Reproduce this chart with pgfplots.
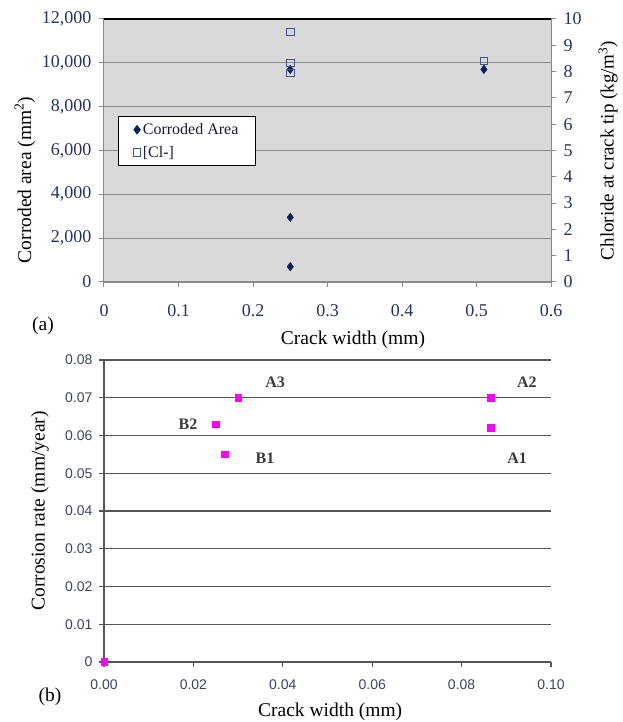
\documentclass[border=0pt]{standalone}
\usepackage{fontspec}
\setmainfont{Liberation Serif}
\newfontfamily\arialf{Liberation Sans}
\usepackage{pgfplots}
\pgfplotsset{compat=1.18}
\definecolor{navy}{HTML}{0D1F5A}
\definecolor{ticknavy}{HTML}{22345F}
\definecolor{sqedge}{HTML}{3F5590}
\definecolor{gridg}{HTML}{8A8A8A}
\definecolor{bgray}{HTML}{D9D9D9}
\definecolor{darkg}{HTML}{555555}
\definecolor{lblg}{HTML}{3A3A3A}
\definecolor{btick}{HTML}{3A4560}
\definecolor{pmag}{HTML}{FF00FF}
\definecolor{legtxt}{HTML}{1A1A35}
\begin{document}
\begin{tikzpicture}[x=1pt,y=1pt]
\useasboundingbox (0,0) rectangle (622,722);
% ---------- (a) left axis ----------
\begin{axis}[
  at={(104pt,440pt)}, anchor=south west, scale only axis,
  width=447pt, height=263pt,
  xmin=0, xmax=0.6, ymin=0, ymax=12000,
  xtick={0,0.1,0.2,0.3,0.4,0.5,0.6},
  ytick={0,2000,4000,6000,8000,10000,12000},
  scaled x ticks=false, scaled y ticks=false,
  xtick pos=left, ytick pos=left,
  tick align=outside, major tick length=5pt,
  tick style={gridg, line width=1pt},
  ymajorgrids, major grid style={gridg, line width=1.2pt},
  axis background/.style={fill=bgray},
  axis line style={gridg, line width=1pt},
  ticklabel style={font=\fontsize{18}{18}\selectfont, color=ticknavy},
  /pgf/number format/assume math mode=true,
  yticklabel style={/pgf/number format/1000 sep={,}, xshift=-4pt},
  xticklabel style={yshift=-14pt},
  xlabel={Crack width (mm)},
  xlabel style={at={(axis description cs:0.557,-0.2205)}, anchor=center, font=\fontsize{19.5}{20}\selectfont},
  ylabel={Corroded area (mm\textsuperscript{2})},
  ylabel style={at={(axis description cs:-0.177,0.388)}, anchor=center, font=\fontsize{19.5}{20}\selectfont},
]
\addplot[only marks, mark=diamond*, mark size=4.3pt, color=navy] coordinates {
  (0.25,9700) (0.25,2950) (0.25,700) (0.51,9700)
};
\draw[black, line width=1.2pt] (rel axis cs:0,1) -- (rel axis cs:1,1);
\end{axis}
% ---------- (a) right axis ----------
\begin{axis}[
  at={(104pt,440pt)}, anchor=south west, scale only axis,
  width=447pt, height=263pt,
  xmin=0, xmax=0.6, ymin=0, ymax=10,
  axis x line=none, axis y line*=right,
  ytick={0,1,2,3,4,5,6,7,8,9,10},
  tick align=outside, major tick length=5pt,
  tick style={gridg, line width=1pt},
  axis line style={gridg, line width=1pt, -},
  ticklabel style={font=\fontsize{18}{18}\selectfont, color=ticknavy},
  /pgf/number format/assume math mode=true,
  yticklabel style={xshift=4pt},
  ylabel={Chloride at crack tip (kg/m\textsuperscript{3})},
  ylabel style={at={(axis description cs:1.128,0.5)}, anchor=center, rotate=0, font=\fontsize{19}{20}\selectfont},
  legend style={at={(0.031,0.631)}, anchor=north west, draw=black, line width=0.8pt, fill=white,
    font=\fontsize{16}{16}\selectfont, text=legtxt, row sep=6pt, inner xsep=15pt, inner ysep=5pt},
  legend cell align=left,
]
\addlegendimage{only marks, mark=diamond*, mark size=4.3pt, color=navy}
\addlegendentry{Corroded Area}
\addplot[only marks, mark=square, mark size=3.8pt, color=sqedge, line width=1.1pt] coordinates {
  (0.25,9.5) (0.25,8.33) (0.25,7.95) (0.51,8.4)
};
\addlegendentry{[Cl-]}
\end{axis}
\node[font=\fontsize{19.5}{20}\selectfont] at (43,396) {(a)};
% ---------- (b) ----------
\begin{axis}[
  at={(104pt,60pt)}, anchor=south west, scale only axis,
  width=447pt, height=302pt,
  xmin=0, xmax=0.1, ymin=0, ymax=0.08,
  xtick={0,0.02,0.04,0.06,0.08,0.1},
  ytick={0,0.01,0.02,0.03,0.04,0.05,0.06,0.07,0.08},
  scaled x ticks=false, scaled y ticks=false,
  axis x line*=bottom, axis y line*=left,
  tick align=outside, major tick length=5pt,
  tick style={darkg, line width=1.3pt},
  ymajorgrids, major grid style={darkg, line width=1.3pt},
  axis line style={darkg, line width=1.3pt, -},
  clip=false,
  ticklabel style={font=\arialf\fontsize{14}{14}\selectfont, color=btick},
  /pgf/number format/assume math mode=true,
  xticklabel style={/pgf/number format/fixed, /pgf/number format/fixed zerofill, /pgf/number format/precision=2, yshift=-9pt},
  yticklabel style={/pgf/number format/fixed, /pgf/number format/precision=2, xshift=-3pt},
  xlabel={Crack width (mm)},
  xlabel style={at={(axis description cs:0.506,-0.166)}, anchor=center, font=\fontsize{19.5}{20}\selectfont},
  ylabel={Corrosion rate (mm/year)},
  ylabel style={at={(axis description cs:-0.143,0.5)}, anchor=center, font=\fontsize{19.5}{20}\selectfont},
]
\addplot[only marks, mark=square*, mark size=3.3pt, color=pmag] coordinates {
  (0,0) (0.025,0.063) (0.027,0.055) (0.030,0.070) (0.0865,0.070) (0.0865,0.062)
};
\node[font=\fontsize{16}{16}\selectfont\bfseries, color=lblg] at (axis cs:0.0383,0.0742) {A3};
\node[font=\fontsize{16}{16}\selectfont\bfseries, color=lblg] at (axis cs:0.0188,0.0630) {B2};
\node[font=\fontsize{16}{16}\selectfont\bfseries, color=lblg] at (axis cs:0.0360,0.0540) {B1};
\node[font=\fontsize{16}{16}\selectfont\bfseries, color=lblg] at (axis cs:0.0946,0.0742) {A2};
\node[font=\fontsize{16}{16}\selectfont\bfseries, color=lblg] at (axis cs:0.0924,0.0540) {A1};
\end{axis}
\node[font=\fontsize{19.5}{20}\selectfont] at (50,25) {(b)};
\end{tikzpicture}
\end{document}
